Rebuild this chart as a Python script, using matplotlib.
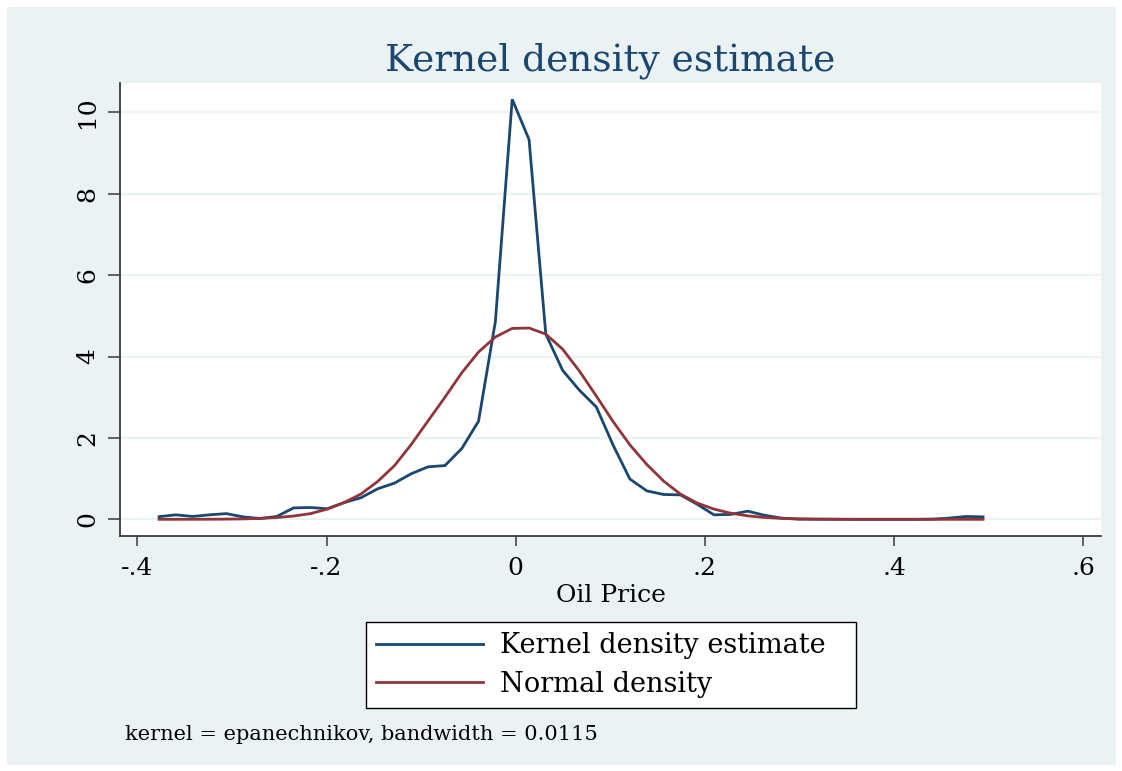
import matplotlib
matplotlib.use("Agg")
import matplotlib.pyplot as plt
from matplotlib.patches import Rectangle

# ---------------- data ----------------
x_grid = [-0.3770, -0.3592, -0.3414, -0.3237, -0.3059, -0.2881, -0.2703, -0.2526,
          -0.2348, -0.2170, -0.1992, -0.1815, -0.1637, -0.1459, -0.1281, -0.1104,
          -0.0926, -0.0748, -0.0570, -0.0393, -0.0215, -0.0037, 0.0141, 0.0318,
          0.0496, 0.0674, 0.0852, 0.1030, 0.1207, 0.1385, 0.1563, 0.1741,
          0.1918, 0.2096, 0.2274, 0.2452, 0.2629, 0.2807, 0.2985, 0.3163,
          0.3340, 0.3518, 0.3696, 0.3874, 0.4051, 0.4229, 0.4407, 0.4585,
          0.4762, 0.4940]

kernel_density = [0.065, 0.11, 0.07, 0.11, 0.14, 0.06, 0.02, 0.07,
                  0.28, 0.29, 0.26, 0.41, 0.53, 0.75, 0.89, 1.12,
                  1.29, 1.32, 1.74, 2.41, 4.86, 10.32, 9.33, 4.55,
                  3.66, 3.17, 2.76, 1.82, 0.99, 0.70, 0.61, 0.60,
                  0.37, 0.11, 0.12, 0.20, 0.10, 0.03, 0.005, 0.003,
                  0.002, 0.0, 0.0, 0.0, 0.0, 0.0, 0.005, 0.03,
                  0.07, 0.06]

normal_density = [0.0, 0.0, 0.001, 0.002, 0.005, 0.01, 0.022, 0.044,
                  0.08, 0.14, 0.25, 0.41, 0.62, 0.93, 1.32, 1.84,
                  2.42, 3.00, 3.60, 4.11, 4.48, 4.69, 4.70, 4.55,
                  4.18, 3.64, 3.03, 2.40, 1.83, 1.35, 0.94, 0.62,
                  0.40, 0.25, 0.15, 0.085, 0.046, 0.023, 0.011, 0.005,
                  0.002, 0.001, 0.0, 0.0, 0.0, 0.0, 0.0, 0.0,
                  0.0, 0.0]

series_labels = ["Kernel density estimate", "Normal density"]
x_ticks = [-0.4, -0.2, 0.0, 0.2, 0.4, 0.6]
x_tick_labels = ["-.4", "-.2", "0", ".2", ".4", ".6"]
y_ticks = [0, 2, 4, 6, 8, 10]
y_tick_labels = ["0", "2", "4", "6", "8", "10"]
title_text = "Kernel density estimate"
x_label = "Oil Price"
note_text = "kernel = epanechnikov, bandwidth = 0.0115"

# ---------------- style ----------------
W, H = 1122, 771
NAVY = "#1A476F"
MAROON = "#90353B"
BG = "#EAF2F3"
AXC = "#3a3a3a"
plt.rcParams["font.family"] = ["DejaVu Serif"]

fig = plt.figure(figsize=(W / 100, H / 100), dpi=100, facecolor="white")
fig.add_artist(Rectangle((7 / W, 6 / H), (1116 - 7) / W, (765 - 7) / H,
                         transform=fig.transFigure, facecolor=BG,
                         edgecolor="none", zorder=-10))

ax_l, ax_r, ax_t, ax_b = 120, 1101, 83, 536
ax = fig.add_axes([ax_l / W, (H - ax_b) / H, (ax_r - ax_l) / W, (ax_b - ax_t) / H])
ax.set_facecolor("white")

ax.plot(x_grid, kernel_density, color=NAVY, lw=2.0, label=series_labels[0],
        zorder=3, solid_joinstyle="miter")
ax.plot(x_grid, normal_density, color=MAROON, lw=2.0, label=series_labels[1],
        zorder=3)

ax.set_xlim(-0.4183, 0.6187)
ax.set_ylim(-0.41, 10.72)

ax.set_xticks(x_ticks)
ax.set_xticklabels(x_tick_labels)
ax.set_yticks(y_ticks)
ax.set_yticklabels(y_tick_labels)
ax.tick_params(axis="x", direction="out", length=7.3, width=1.1, color=AXC,
               pad=7.8, labelsize=18)
ax.tick_params(axis="y", direction="out", length=8.4, width=1.1, color=AXC,
               pad=6.5, labelsize=18)
for lab in ax.get_yticklabels():
    lab.set_rotation(90)
    lab.set_va("center")
    lab.set_ha("right")

ax.yaxis.grid(True, color=BG, lw=1.6, zorder=0)
ax.xaxis.grid(False)
ax.set_axisbelow(True)

for s in ["top", "right"]:
    ax.spines[s].set_visible(False)
for s in ["left", "bottom"]:
    ax.spines[s].set_color(AXC)
    ax.spines[s].set_linewidth(1.3)

ax.set_title(title_text, color=NAVY, fontsize=27, pad=9)
ax.set_xlabel(x_label, fontsize=18, va="top")
ax.xaxis.set_label_coords(0.5, -(584 - ax_b) / (ax_b - ax_t))

leg_l, leg_t, leg_w, leg_h = 366, 622, 490, 86
leg = ax.legend(loc="upper left",
                bbox_to_anchor=(leg_l / W, (H - leg_t - leg_h) / H, leg_w / W, leg_h / H),
                bbox_transform=fig.transFigure, mode="expand", borderaxespad=0,
                fontsize=19.5, frameon=True, fancybox=False, framealpha=1,
                facecolor="white", edgecolor="black", borderpad=0.38,
                labelspacing=0.42, handlelength=3.93, handletextpad=0.63)
leg.get_frame().set_linewidth(1.0)
for line in leg.get_lines():
    line.set_linewidth(2.0)

fig.text(125 / W, (H - 740) / H, note_text, fontsize=15, va="baseline", ha="left")

fig.savefig("out.png", dpi=100, facecolor="white")
